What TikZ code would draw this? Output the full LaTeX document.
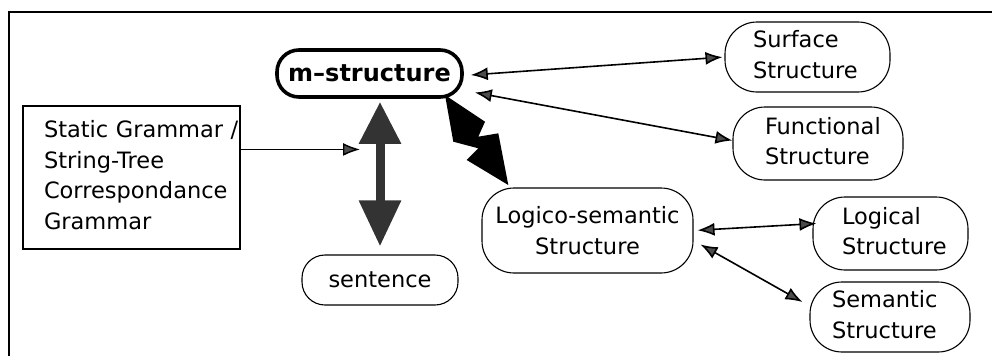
\documentclass[tikz,border=0pt]{standalone}
\usepackage{fontspec}
\setmainfont{DejaVu Sans}
\usetikzlibrary{arrows.meta,calc}
\newcommand\padlines[2]{\begin{tabular}{@{\hspace*{#1}}l@{}}#2\end{tabular}}
\begin{document}
\begin{tikzpicture}[x=1pt,y=-1pt,
  txt/.style={font=\fontsize{22.5}{30.5}\selectfont},
  rbox/.style={draw, line width=1.1pt, rounded corners=24pt, inner xsep=0pt, inner ysep=0pt, txt},
  lbox/.style={rbox, align=left},
  hat/.style={line width=1.6pt, {Latex[length=17pt,width=13pt,fill=black!70]}-{Latex[length=17pt,width=13pt,fill=black!70]}},
  onehat/.style={line width=1.4pt, -{Latex[length=17pt,width=13pt,fill=black!70]}},
  bigdbl/.style={line width=9pt, draw=black!80, {Triangle[length=42pt,width=40pt,fill=black!80]}-{Triangle[length=46pt,width=40pt,fill=black!80]}}
]
\useasboundingbox (0,0) rectangle (992,356);
\renewcommand\arraystretch{1}
% frame
\draw[line width=1.1pt] (992,12) -- (9,12) -- (9,356);

% nodes
\node[draw, line width=1.1pt, inner sep=0pt, minimum width=217pt, minimum height=143pt,
      text width=217pt, align=left, txt] (sg) at (131.5,177.5)
  {\padlines{21pt}{Static Grammar /\\String-Tree\\Correspondance\\Grammar}};

\node[draw, line width=3.6pt, rounded corners=22pt, minimum width=185pt, minimum height=47pt,
      inner sep=0pt, font=\fontsize{24}{28}\selectfont\bfseries] (m) at (369.5,73.5) {m–structure};

\node[rbox, minimum width=156pt, minimum height=50pt, rounded corners=23pt] (sent) at (380,280) {sentence};

\node[rbox, align=center, minimum width=211pt, minimum height=85pt, rounded corners=32pt] (logico) at (587.5,230.5)
  {Logico-semantic\\Structure};

\node[lbox, text width=165pt, minimum width=165pt, minimum height=70pt, rounded corners=32pt] (surf) at (807.5,57)
  {\padlines{28pt}{Surface\\Structure}};
\node[lbox, text width=170pt, minimum width=170pt, minimum height=73pt, rounded corners=32pt] (func) at (818,143.5)
  {\padlines{32pt}{Functional\\Structure}};
\node[lbox, text width=155pt, minimum width=155pt, minimum height=73pt, rounded corners=32pt] (logical) at (890.5,233.5)
  {\padlines{29pt}{Logical\\Structure}};
\node[lbox, text width=160pt, minimum width=160pt, minimum height=70pt, rounded corners=32pt] (sem) at (890,317)
  {\padlines{22pt}{Semantic\\Structure}};

% connectors
\coordinate (join) at ($(sent.north)+(-20,-105)$);
\draw[onehat] (sg.east |- join) -- (join);

\draw[bigdbl, shorten <=3pt, shorten >=8pt] (sent.north |- m.south) -- (sent.north);

\draw[hat, shorten <=7pt, shorten >=2pt] ($(m.east)+(0,2)$) -- (surf.west);
\draw[hat] ($(m.east)+(11,19)$) -- ($(func.west)+(0,-3)$);

\draw[hat, shorten <=4pt] (logico.east) -- ($(logical.west)+(4,-10)$);
\draw[hat] ($(logico.east)+(7,14)$) -- ($(sem.west)+(-7,-15)$);

% big zigzag arrow from m-structure to Logico-semantic
\fill[black] (445,95) -- (485,121.7) -- (478.3,136.7) -- (498.3,133.3) -- (508.3,185)
  -- (466.7,160) -- (478.3,148.3) -- (453.3,141.7) -- cycle;
\end{tikzpicture}
\end{document}
